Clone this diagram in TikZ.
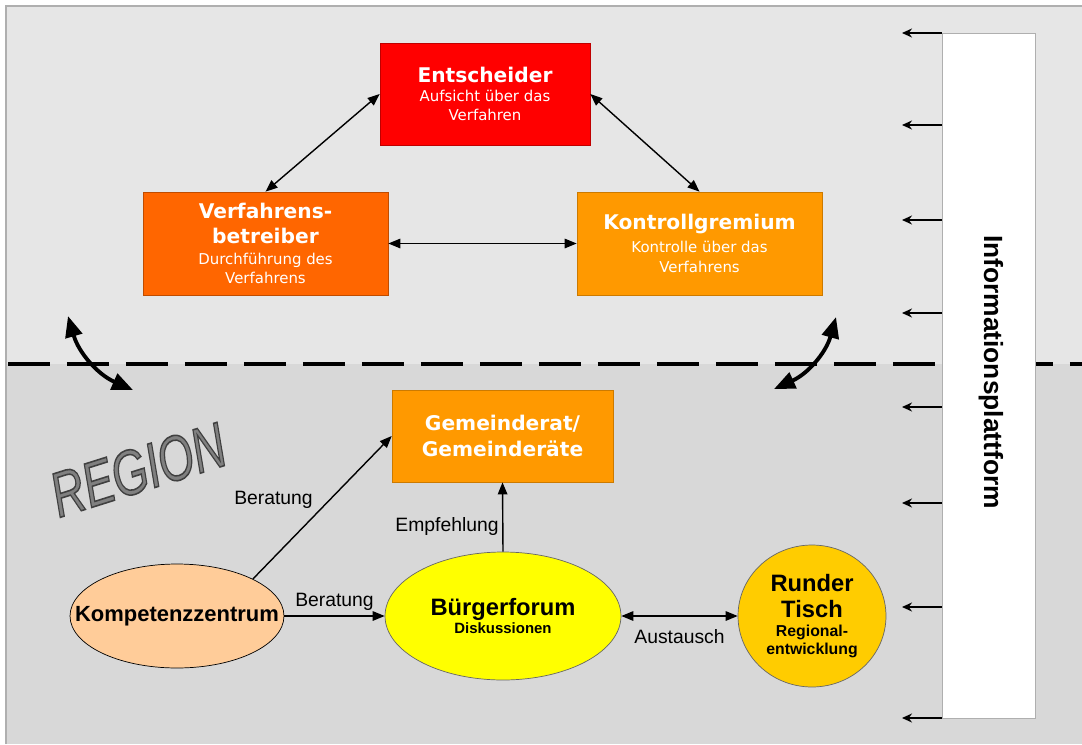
\documentclass[tikz,border=0pt]{standalone}
\usepackage{fontspec}
\setmainfont{Liberation Sans}
\newfontfamily\verdfont{DejaVu Sans}
\usetikzlibrary{arrows.meta,positioning,shapes.geometric,calc}
\definecolor{UpperGray}{RGB}{230,230,230}
\definecolor{LowerGray}{RGB}{216,216,216}
\definecolor{FrameGray}{RGB}{175,175,175}
\definecolor{BoxRed}{RGB}{255,0,0}
\definecolor{BoxDeepOrange}{RGB}{255,102,0}
\definecolor{BoxOrange}{RGB}{255,153,0}
\definecolor{EllPeach}{RGB}{255,204,153}
\definecolor{EllYellow}{RGB}{255,255,0}
\definecolor{EllGold}{RGB}{255,204,0}
\definecolor{RegionGray}{RGB}{128,128,128}
\newcommand{\boxtitle}[1]{{\fontsize{11.5}{14}\selectfont\bfseries #1}}
\newcommand{\elltitle}[1]{{\fontsize{13.5}{16}\selectfont\bfseries #1}}

\begin{document}
\begin{tikzpicture}[
    x=0.02cm, y=-0.02cm,
    boxred/.style={draw=BoxRed!75!black, fill=BoxRed, minimum width=4.2cm, minimum height=2.04cm, inner sep=0pt, align=center, text=white, font=\verdfont\fontsize{8.5}{11}\selectfont},
    boxdeep/.style={draw=BoxDeepOrange!75!black, fill=BoxDeepOrange, minimum width=4.9cm, minimum height=2.06cm, inner sep=0pt, align=center, text=white, font=\verdfont\fontsize{8.5}{11}\selectfont},
    boxorange/.style={draw=BoxOrange!80!black, fill=BoxOrange, minimum width=4.9cm, minimum height=2.06cm, inner sep=0pt, align=center, text=white, font=\verdfont\fontsize{8.5}{11}\selectfont},
    ellpeach/.style={ellipse, draw=black, fill=EllPeach, minimum width=4.28cm, minimum height=2.08cm, inner sep=0pt, align=center, font=\fontsize{12.5}{14}\selectfont\bfseries},
    ellyellow/.style={ellipse, draw=black!60, fill=EllYellow, minimum width=4.72cm, minimum height=2.56cm, inner sep=0pt, align=center, font=\fontsize{8.5}{10}\selectfont\bfseries},
    ellgold/.style={ellipse, draw=black!60, fill=EllGold, minimum width=2.96cm, minimum height=2.84cm, inner sep=0pt, align=center, font=\fontsize{9}{10}\selectfont\bfseries},
    platform/.style={draw=FrameGray, fill=white, minimum width=1.86cm, minimum height=13.7cm, inner sep=0pt},
    lbl/.style={font=\fontsize{11}{13}\selectfont, inner sep=2pt},
    arrow/.style={-{Triangle[length=2.4mm,width=1.9mm]}, line width=0.8pt},
    dblarrow/.style={{Triangle[length=2.4mm,width=1.9mm]}-{Triangle[length=2.4mm,width=1.9mm]}, line width=0.8pt},
    infoarrow/.style={-{Stealth[length=2mm,width=1.8mm]}, line width=0.8pt},
    bigarrow/.style={{Triangle[length=0.42cm,width=0.34cm]}-{Triangle[length=0.42cm,width=0.34cm]}, line width=2.2pt}
  ]
    \useasboundingbox (0,0) rectangle (1082,744);
    % background areas
    \fill[UpperGray] (6,6) rectangle (1082,364);
    \fill[LowerGray] (6,364) rectangle (1082,744);
    \draw[FrameGray, line width=1.2pt] (6,744) -- (6,6) -- (1082,6);
    \draw[line width=1.8pt, dash pattern=on 0.84cm off 0.34cm] (8,364) -- (1082,364);
    \node[rotate=17.5, text=RegionGray, font=\fontsize{36}{40}\selectfont\itshape] (region) at (138,470) {\special{pdf:literal direct 2 Tr 0.9 w 0.25 0.25 0.25 RG}\scalebox{0.72}[1]{REGION}\special{pdf:literal direct 0 Tr}};

    % upper boxes
    \node[boxred] (ents) at (485,94) {\boxtitle{Entscheider}\\Aufsicht über das\\Verfahren};
    \node[boxdeep] (verf) at (265.5,243.5) {\boxtitle{Verfahrens-}\\[3pt]\boxtitle{betreiber}\\[1pt]Durchführung des\\Verfahrens};
    \node[boxorange] (kontr) at (699.5,243.5) {\boxtitle{Kontrollgremium}\\[2pt]Kontrolle über das\\Verfahrens};
    \draw[dblarrow] (ents.west) -- (verf.north);
    \draw[dblarrow] (ents.east) -- (kontr.north);
    \draw[dblarrow] (verf.east) -- (kontr.west);

    % region
    \node[boxorange, minimum width=4.42cm, minimum height=1.84cm, font=\verdfont\fontsize{11.5}{15}\selectfont\bfseries] (gem) at (502.5,436) {Gemeinderat/\\Gemeinderäte};
    \node[ellpeach] (komp) at (177,616) {\makebox[2.4cm]{Kompetenzzentrum}};
    \node[ellyellow] (buerger) at (503,616) {\elltitle{Bürgerforum}\\Diskussionen};
    \node[ellgold] (runder) at (812,616) {\elltitle{Runder}\\[5pt]\elltitle{Tisch}\\[1pt]Regional-\\entwicklung};
    \draw[arrow] (komp.north east) -- node[lbl, pos=0.55, left=7pt] {Beratung} (gem.west);
    \draw[arrow] (komp.east) -- node[lbl, above=1pt] {Beratung} (buerger.west);
    \draw[arrow] (buerger.north) -- node[lbl, pos=0.36, left] {Empfehlung} (gem.south);
    \draw[dblarrow] (buerger.east) -- node[lbl, below=5pt] {Austausch} (runder.west);

    % crossings of the border line
    \coordinate (cl1) at (68,316);
    \coordinate (cl2) at (133,390);
    \coordinate (cr1) at (774,389);
    \coordinate (cr2) at (836,317);
    \draw[bigarrow] (cl1) to[bend right=25] (cl2);
    \draw[bigarrow] (cr1) to[bend right=25] (cr2);

    % information platform
    \node[platform] (info) at (988.5,375.5) {};
    \node[rotate=-90, font=\fontsize{15}{17}\selectfont\bfseries] (infotext) at (991,372) {Informationsplattform};
    \foreach \y in {33,125,220,313,407,503,607,718} {
      \coordinate (ia\y) at (902,\y);
      \draw[infoarrow] (info.west |- ia\y) -- (ia\y);
    }
  \end{tikzpicture}
\end{document}
